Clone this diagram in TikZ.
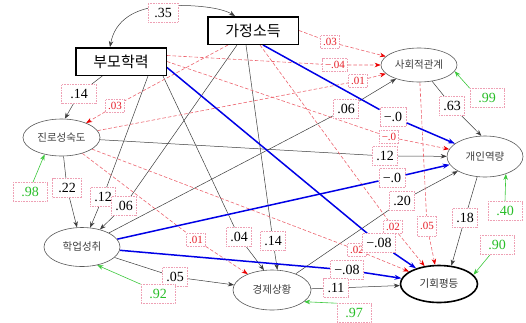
\documentclass[tikz,border=0pt]{standalone}
\usepackage{fontspec}
\setmainfont{Liberation Serif}
\newfontfamily\kr{Noto Sans CJK KR}
\usetikzlibrary{shapes.geometric,arrows.meta}
\pgfdeclarelayer{bg}
\pgfsetlayers{bg,main}
\definecolor{labbd}{RGB}{238,160,180}
\definecolor{rtext}{RGB}{230,30,40}
\definecolor{rline}{RGB}{236,100,110}
\definecolor{rtip}{RGB}{235,0,0}
\definecolor{gtext}{RGB}{40,190,40}
\definecolor{gline}{RGB}{60,200,60}
\definecolor{bline}{RGB}{0,0,230}
\definecolor{lnk}{RGB}{60,60,60}
\begin{document}
\begin{tikzpicture}[x=1pt,y=-1pt,
  box/.style={draw=black,line width=1.5pt,fill=white,minimum width=90.5pt,minimum height=27.5pt,inner sep=0pt,font=\kr\fontsize{15}{18}\selectfont},
  ell/.style={ellipse,draw=black!65,line width=0.6pt,fill=white,inner sep=0pt,font=\kr\fontsize{10.5}{12}\selectfont,text=black!75},
  lab/.style={draw=labbd,densely dotted,line width=0.6pt,fill=white,inner xsep=4pt,inner ysep=0pt,minimum height=19pt,font=\fontsize{14}{16}\selectfont},
  rlab/.style={lab,text=rtext,font=\fontsize{11}{12}\selectfont,inner xsep=2.5pt,minimum height=13pt},
  glab/.style={lab,text=gtext,minimum width=34pt},
  blk/.style={-{Stealth[length=6pt,width=4.5pt]},draw=lnk,line width=0.5pt},
  rdash/.style={-{Stealth[length=6pt,width=4.5pt,color=rtip]},draw=rline,dash pattern=on 3.5pt off 2pt,line width=0.6pt},
  blu/.style={-{Stealth[length=7pt,width=5pt]},draw=bline,line width=1.5pt},
  grn/.style={-{Stealth[length=6pt,width=4.5pt]},draw=gline,line width=0.6pt}
]
\useasboundingbox (0,0) rectangle (526,322);

% main nodes
\node[box] (pm) at (121,61.5) {부모학력};
\node[box] (gs) at (253,30.5) {가정소득};
\node[ell,minimum width=76pt,minimum height=34pt] (sa) at (419,65) {사회적관계};
\node[ell,minimum width=77pt,minimum height=37pt] (jr) at (61.5,137.5) {진로성숙도};
\node[ell,minimum width=76pt,minimum height=41pt] (gae) at (485,156.5) {개인역량};
\node[ell,minimum width=76pt,minimum height=39pt] (hak) at (82,247) {학업성취};
\node[ell,minimum width=78pt,minimum height=40pt] (gy) at (272,290) {경제상황};
\node[ell,draw=black,line width=1.6pt,text=black!80,minimum width=77pt,minimum height=37pt] (gh) at (439,284) {기회평등};

% labels
\coordinate (c35) at (163,6);
\node[lab,minimum width=30pt] (l35) at (163,12.5) {.35};
\node[lab,minimum width=35pt] (l14) at (79,94) {.14};
\node[rlab] (l03a) at (115,106) {.03};
\node[lab,minimum width=29pt] (l22) at (67,188) {.22};
\node[lab] (l12a) at (103,197) {.12};
\node[lab] (l06a) at (124,206) {.06};
\node[rlab] (l03b) at (330,42) {.03};
\node[rlab] (l04) at (335,65) {−.04};
\node[rlab] (l01a) at (358,81) {.01};
\node[lab] (l06b) at (346,109) {.06};
\node[lab] (l0a) at (393,117) {−.0};
\node[lab] (l63) at (452,106) {.63};
\node[glab] (l99) at (487,98) {.99};
\node[rlab] (l0r) at (389,137) {−.0};
\node[lab] (l12b) at (385,156) {.12};
\node[lab] (l0b) at (392,178) {−.0};
\node[lab] (l20) at (402,201) {.20};
\node[lab] (l18) at (465,218) {.18};
\node[glab] (l40) at (505,211) {.40};
\node[rlab,minimum height=20pt] (l05r) at (427,226) {.05};
\node[rlab] (l02a) at (393,227) {.02};
\node[rlab] (l02b) at (357,250) {.02};
\node[lab] (l08a) at (379,243) {−.08};
\node[lab] (l08b) at (347,270) {−.08};
\node[glab] (l90) at (497,245) {.90};
\node[lab] (l11) at (336,288) {.11};
\node[glab] (l97) at (354,313) {.97};
\node[rlab] (l01b) at (196,240) {.01};
\node[lab] (l04b) at (239,237) {.04};
\node[lab] (l14b) at (273,241) {.14};
\node[lab] (l05) at (175,277) {.05};
\node[glab] (l92) at (158,294) {.92};
\node[glab] (l98) at (30,192) {.98};

\begin{pgfonlayer}{bg}
% covariance
\draw[lnk,line width=0.5pt,{Stealth[length=6pt,width=4.5pt]}-{Stealth[length=6pt,width=4.5pt]}]
  ([xshift=-11pt]pm.north) .. controls +(5,-27) and +(-28,2) .. (c35)
  .. controls +(32,-2) and +(-13,-8) .. ([xshift=-18pt]gs.north);
% black paths
\draw[blk] (pm) -- (l14) -- (jr.80);
\draw[blk] (jr) -- (l22) -- (hak);
\draw[blk] ([xshift=27pt]pm.south) -- (l12a) -- (hak);
\draw[blk] ([xshift=-16pt]gs.south) -- (l06a) -- (hak);
\draw[blk] ([xshift=42pt]pm.south) -- (l04b) -- (gy.112);
\draw[blk] ([xshift=-7pt]gs.south) -- (l14b) -- (gy.75);
\draw[blk] (hak) -- (l05) -- (gy);
\draw[blk] (hak) -- (l06b) -- (sa);
\draw[blk] (jr) -- (l12b) -- (gae);
\draw[blk] (gy) -- (l20) -- (gae);
\draw[blk] (sa) -- (l63) -- (gae.100);
\draw[blk] (gae.-111) -- (l18) -- (gh.56);
\draw[blk] (gy) -- (l11) -- (gh);
% red dashed paths
\draw[rdash] (gs.east) -- (l03b) -- (sa);
\draw[rdash] ([yshift=6pt]pm.east) -- (l04) -- (sa);
\draw[rdash] (jr) -- (l01a) -- (sa);
\draw[rdash] (pm.east) -- (l0r) -- (gae);
\draw[rdash] ([xshift=-25pt]gs.south) -- (l03a) -- (jr);
\draw[rdash] (jr) -- (l01b) -- (gy);
\draw[rdash] (jr) -- (l02b) -- (gh);
\draw[rdash] ([xshift=7pt]gs.south) -- (l02a) -- (gh);
\draw[rdash] (sa) -- (l05r) -- (gh);
% blue paths
\draw[blu] ([xshift=10pt]gs.south) -- (l0a) -- (gae);
\draw[blu] (hak) -- (l0b) -- (gae);
\draw[blu] ([yshift=-6pt]pm.east) -- (l08a) -- (gh);
\draw[blu] (hak) -- (l08b) -- (gh);
% residuals
\draw[grn] (l99.north west) -- (sa.-10);
\draw[grn] ([xshift=3pt]l98.north) -- (jr.-135);
\draw[grn] (l40.north) -- (gae.-40);
\draw[grn] (l92.north west) -- (hak.-50);
\draw[grn] ([xshift=-7pt]l90.south) -- (gh.15);
\draw[grn] (l97.north west) -- (gy.-20);
\end{pgfonlayer}
\end{tikzpicture}
\end{document}
